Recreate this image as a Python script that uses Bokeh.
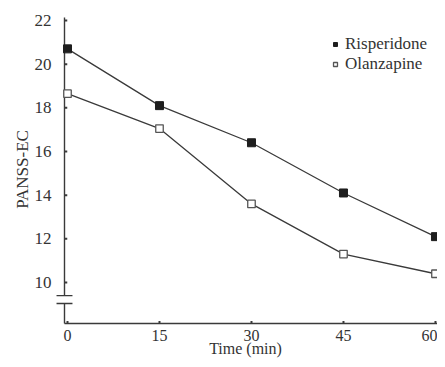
from bokeh.plotting import figure
from bokeh.models import Range1d, FixedTicker, Legend, LegendItem
from bokeh.embed import file_html
from bokeh.resources import INLINE

# Data
time_min = [0, 15, 30, 45, 60]
risperidone = [20.7, 18.1, 16.4, 14.1, 12.1]
olanzapine = [18.65, 17.05, 13.6, 11.3, 10.4]
x_ticks = [0, 15, 30, 45, 60]
y_ticks = [10, 12, 14, 16, 18, 20, 22]

FONT = "Liberation Serif"
TXT = "#333333"
LINE = "#3a3a3a"

# axis geometry (data units)
x_axis_pos = -0.49
y_axis_bottom = 8.12
y_axis_top = 22.14
break_hi = 9.40
break_lo = 9.04

p = figure(width=437, height=359, output_backend="svg", toolbar_location=None,
           x_range=Range1d(-2.283, 60.33), y_range=Range1d(8.03, 22.32),
           min_border_left=53, min_border_right=0, min_border_top=13, min_border_bottom=34)
p.outline_line_color = None
p.grid.grid_line_color = None
p.background_fill_color = "white"

# axes (labels only)
for ax in (p.xaxis[0], p.yaxis[0]):
    ax.axis_line_color = None
    ax.major_tick_line_color = None
    ax.minor_tick_line_color = None
    ax.major_tick_in = 0
    ax.major_tick_out = 0
    ax.minor_tick_in = 0
    ax.minor_tick_out = 0
    ax.major_label_text_font = FONT
    ax.major_label_text_color = TXT
    ax.axis_label_text_font = FONT
    ax.axis_label_text_color = TXT
    ax.axis_label_text_font_style = "normal"

p.yaxis.major_label_text_font_size = "17px"
p.yaxis.axis_label_text_font_size = "17px"
p.xaxis.major_label_text_font_size = "16px"
p.xaxis.axis_label_text_font_size = "16px"

p.xaxis.ticker = FixedTicker(ticks=x_ticks)
p.yaxis.ticker = FixedTicker(ticks=y_ticks)
p.xaxis.axis_label = "Time (min)"
p.yaxis.axis_label = "PANSS-EC"
p.xaxis.major_label_standoff = 4
p.xaxis.axis_label_standoff = -4
p.yaxis.major_label_standoff = 2
p.yaxis.axis_label_standoff = 0

# hand-drawn axis lines with break
p.segment(x0=[x_axis_pos, x_axis_pos, x_axis_pos], y0=[y_axis_top, break_lo, y_axis_bottom],
          x1=[x_axis_pos, x_axis_pos, 60.33], y1=[break_hi, y_axis_bottom, y_axis_bottom],
          line_color=LINE, line_width=1.4)
p.segment(x0=[x_axis_pos - 1.3, x_axis_pos - 1.3], y0=[break_hi, break_lo],
          x1=[x_axis_pos + 1.3, x_axis_pos + 1.3], y1=[break_hi, break_lo],
          line_color=LINE, line_width=1.4)
# tick dots
p.segment(x0=[x_axis_pos] * len(y_ticks), y0=y_ticks,
          x1=[x_axis_pos + 0.45] * len(y_ticks), y1=y_ticks,
          line_color=LINE, line_width=2)
p.segment(x0=x_ticks, y0=[y_axis_bottom] * len(x_ticks),
          x1=x_ticks, y1=[y_axis_bottom + 0.12] * len(x_ticks),
          line_color=LINE, line_width=2)

# series
p.line(time_min, risperidone, line_color=LINE, line_width=1.3)
p.line(time_min, olanzapine, line_color=LINE, line_width=1.3)
r1 = p.scatter(time_min, risperidone, marker="square", size=8,
               fill_color="#1e1e1e", line_color="#1e1e1e")
r2 = p.scatter(time_min, olanzapine, marker="square", size=7.5,
               fill_color="white", line_color="#555555", line_width=1.3)

common = dict(padding=0, margin=0, spacing=0, glyph_width=10, glyph_height=16,
              label_height=16, label_standoff=5, label_text_font=FONT,
              label_text_font_size="17px", label_text_color=TXT,
              border_line_color=None, background_fill_alpha=0)
legend1 = Legend(items=[LegendItem(label="Risperidone", renderers=[r1])],
                 location=(277, 271), **common)
legend2 = Legend(items=[LegendItem(label="Olanzapine", renderers=[r2])],
                 location=(277, 251), **common)
p.add_layout(legend1)
p.add_layout(legend2)

open("out.html", "w").write(file_html(p, INLINE))
